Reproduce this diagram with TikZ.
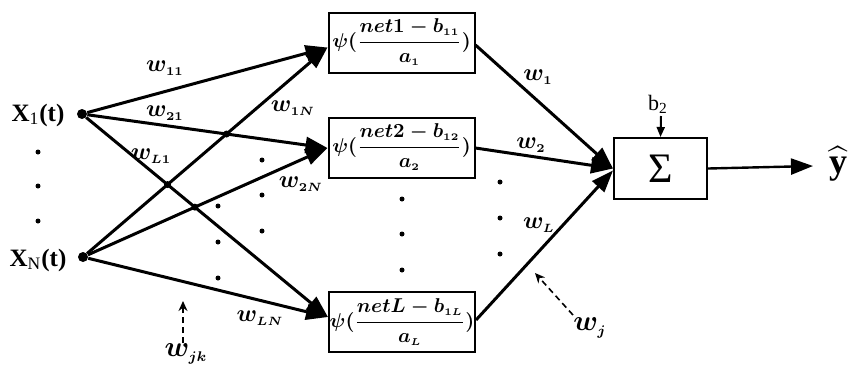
\documentclass[tikz,border=0pt]{standalone}
\usepackage{amsmath}
\usepackage{fontspec}
\setmainfont{Liberation Serif}
\usetikzlibrary{arrows.meta,intersections,calc}
\newcommand{\hidtxt}[3]{$\psi(\displaystyle\frac{#1 \mathbin{-} b_{\scriptscriptstyle #2}}{a_{\scriptscriptstyle #3}})$}
\newcommand{\wsub}[1]{$w_{\scriptscriptstyle #1}$}
\begin{document}
\begin{tikzpicture}[x=0.5pt,y=-0.5pt,
  conn/.style={line width=1.5pt},
  bigarrow/.style={conn,-{Triangle[length=11pt,width=8pt]}},
  hidbox/.style={draw=black,line width=1pt,minimum width=73pt,minimum height=30pt,inner sep=0pt,font=\fontsize{10}{12}\selectfont\boldmath},
  wlab/.style={font=\large\boldmath,inner sep=0pt},
  biglab/.style={font=\Large\boldmath,inner sep=0pt},
  xlab/.style={font=\fontsize{12.5}{14}\selectfont\bfseries,inner sep=0pt},
  smalldot/.style={circle,fill=black,inner sep=0pt,minimum size=2.5pt},
  indot/.style={circle,fill=black,inner sep=0pt,minimum size=5pt},
  xdot/.style={circle,fill=black,inner sep=0pt,minimum size=3.5pt},
  hint/.style={line width=0.8pt,densely dashed,-{Stealth[length=5pt,width=4.5pt]}}]
\useasboundingbox (0,0) rectangle (856,372);
% inputs
\node[xlab] (x1) at (38,115) {X\textsubscript{\mdseries 1}(t)};
\node[xlab] (xn) at (38,260) {X\textsubscript{\mdseries N}(t)};
\node[indot] (d1) at (82,114) {};
\node[indot] (dn) at (83,257) {};
\node[smalldot] (lda) at (38,152) {};
\node[smalldot] (ldb) at (38,186) {};
\node[smalldot] (ldc) at (38,221) {};
% hidden boxes
\node[hidbox] (b1) at (401.5,42.5) {\hidtxt{net1}{11}{1}};
\node[hidbox] (b2) at (401.5,147.5) {\hidtxt{net2}{12}{2}};
\node[hidbox] (bL) at (402,322) {\hidtxt{netL}{1L}{L}};
% sum
\node[draw=black,line width=1pt,minimum width=46.5pt,minimum height=30.5pt,inner sep=0pt,font=\fontsize{21}{24}\selectfont] (sig) at (660.5,168.5) {Σ};
\node[font=\fontsize{11}{13}\selectfont,inner sep=0pt] (b2lab) at (658,104) {b\textsubscript{2}};
\coordinate (b2top) at (661,116);
\draw[line width=1pt,-{Triangle[length=5pt,width=4pt]}] (b2top) -- (sig.north);
\node[font=\fontsize{18}{20}\selectfont,inner sep=0pt] (yhat) at (838,164) {$\widehat{\text{\bfseries y}}$};
\coordinate (yend) at (813,166);
\draw[line width=1.2pt,-{Triangle[length=11pt,width=8pt]}] (sig.east) -- (yend);
% input connectors
\coordinate (i1) at ($(b1.west)+(0,5)$);
\coordinate (i2) at ($(b2.west)+(0,0.5)$);
\coordinate (iL) at ($(bL.west)+(0,-5)$);
\draw[bigarrow] (d1) -- (i1);
\draw[bigarrow,name path=l12] (d1) -- (i2);
\draw[bigarrow,name path=l1L] (d1) -- (iL);
\draw[bigarrow,name path=ln1] (dn) -- (i1);
\draw[bigarrow,name path=ln2] (dn) -- (i2);
\draw[bigarrow] (dn) -- (iL);
\path[name intersections={of=l12 and ln1,name=pa}];
\path[name intersections={of=l1L and ln1,name=pb}];
\path[name intersections={of=l1L and ln2,name=pc}];
\node[xdot] (ca) at (pa-1) {};
\node[xdot] (cb) at (pb-1) {};
\node[xdot] (cc) at (pc-1) {};
% weight labels
\node[wlab] (w11) at (165,68) {\wsub{11}};
\node[wlab] (w21) at (165,113) {\wsub{21}};
\node[wlab] (wL1) at (151,156) {\wsub{L1}};
\node[wlab] (w1N) at (293,108) {\wsub{1N}};
\node[wlab] (w2N) at (301,184) {\wsub{2N}};
\node[wlab] (wLN) at (260,318) {\wsub{LN}};
\foreach \yy/\kk in {206/a,242/b,278/c} {\node[smalldot] (ma\kk) at (218,\yy) {};}
\foreach \yy/\kk in {160/a,195/b,231/c} {\node[smalldot] (mb\kk) at (262,\yy) {};}
\foreach \yy/\kk in {199/a,234/b,270/c} {\node[smalldot] (mc\kk) at (402,\yy) {};}
\foreach \yy/\kk in {182/a,218/b,254/c} {\node[smalldot] (md\kk) at (500,\yy) {};}
% output connectors
\coordinate (o1) at ($(b1.east)+(0,2.5)$);
\coordinate (o2) at ($(b2.east)+(0,0.5)$);
\coordinate (oL) at ($(bL.east)+(0,-2)$);
\draw[bigarrow] (o1) -- (sig.west);
\draw[bigarrow] (o2) -- (sig.west);
\draw[bigarrow] (oL) -- ($(sig.west)+(0,2)$);
\node[wlab] (w1) at (538,77) {\wsub{1}};
\node[wlab] (w2) at (531,145) {\wsub{2}};
\node[wlab] (wL) at (539,225) {\wsub{L}};
% hints
\node[biglab] (wjk) at (186,354) {\wsub{jk}};
\coordinate (jkt) at (183,301);
\coordinate (jkb) at (183,343);
\draw[hint] (jkb) -- (jkt);
\node[biglab] (wj) at (590,328) {\wsub{j}};
\coordinate (jt) at (535,273);
\coordinate (jb) at (573,315);
\draw[hint] (jb) -- (jt);
\end{tikzpicture}
\end{document}
